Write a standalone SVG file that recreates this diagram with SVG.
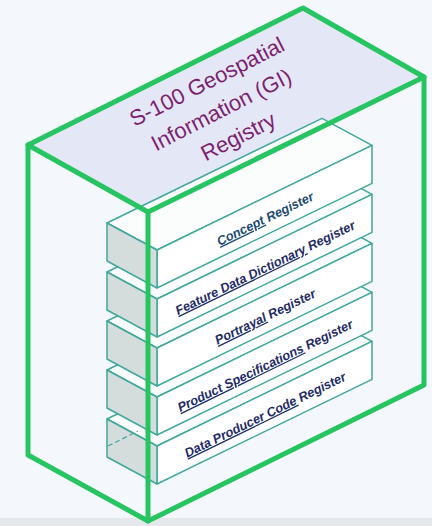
<svg xmlns="http://www.w3.org/2000/svg" xmlns:xlink="http://www.w3.org/1999/xlink" width="432" height="526" viewBox="0 0 432 526">
  <style>
    .frame { fill: none; stroke: #27c462; stroke-width: 5; stroke-linejoin: round; stroke-linecap: round; }
    .top { fill: #e4e7f6; stroke: none; }
    .title { font-family: "Liberation Sans", Arial, sans-serif; font-size: 22px; fill: #7d1f70; text-anchor: middle; }
    .bface { stroke: #3fa89b; stroke-width: 1.5; stroke-linejoin: round; }
    .btop { fill: #fbfdfd; }
    .bfront { fill: #ffffff; }
    .bleft { fill: #d5dcdc; }
    .lbl { font-family: "Liberation Sans", Arial, sans-serif; font-size: 12.8px; font-weight: bold; font-style: italic; fill: #1f2b66; text-anchor: middle; }
    .dash { stroke: #3fa89b; stroke-width: 1.2; stroke-dasharray: 5 3; fill: none; }
  </style>
  <defs>
    <g id="block">
      <polygon class="bface btop" points="0,0 215,-104.7 165,-131.7 -50,-27"/>
      <polygon class="bface bfront" points="0,0 215,-104.7 215,-66.7 0,38"/>
      <polygon class="bface bleft" points="-50,-27 0,0 0,38 -50,11"/>
    </g>
  </defs>
  <rect x="0" y="0" width="432" height="526" fill="#f4f7fb"/>
  <rect x="0" y="518" width="432" height="8" fill="#e6e9ec"/>

  <g id="gi-registry-top">
    <polygon class="top" points="28,145 303,8 424,77 148,212"/>
  </g>

  <g id="data-producer-code-register">
    <use xlink:href="#block" href="#block" transform="translate(157,446)"/>
    <line class="dash" x1="108" y1="446" x2="138" y2="431"/>
    <text class="lbl" transform="translate(264,412.4) rotate(-26)" y="7"><tspan text-decoration="underline">Data Producer Code</tspan> Register</text>
  </g>
  <g id="product-specifications-register">
    <use xlink:href="#block" href="#block" transform="translate(157,397)"/>
    <text class="lbl" transform="translate(264,363.4) rotate(-26)" y="7"><tspan text-decoration="underline">Product Specifications</tspan> Register</text>
  </g>
  <g id="portrayal-register">
    <use xlink:href="#block" href="#block" transform="translate(157,348)"/>
    <text class="lbl" transform="translate(264,314.4) rotate(-26)" y="7"><tspan text-decoration="underline">Portrayal</tspan> Register</text>
  </g>
  <g id="feature-data-dictionary-register">
    <use xlink:href="#block" href="#block" transform="translate(157,299)"/>
    <text class="lbl" transform="translate(264,265.4) rotate(-26)" y="7"><tspan text-decoration="underline">Feature Data Dictionary</tspan> Register</text>
  </g>
  <g id="concept-register">
    <use xlink:href="#block" href="#block" transform="translate(157,250)"/>
    <text class="lbl" transform="translate(264,216.4) rotate(-26)" y="7" style="fill:#1d4a72"><tspan text-decoration="underline">Concept</tspan> Register</text>
  </g>

  <g id="gi-registry">
    <text class="title" transform="translate(213,87) rotate(-27)">
      <tspan x="0" y="0">S-100 Geospatial</tspan>
      <tspan x="0" y="31.5">Information (GI)</tspan>
      <tspan x="0" y="63">Registry</tspan>
    </text>
    <polygon class="frame" points="28,145 303,8 424,77 148,212"/>
    <polyline class="frame" points="28,145 28,455 148,521 424,385 424,77"/>
    <line class="frame" x1="148" y1="212" x2="148" y2="521"/>
  </g>
</svg>
